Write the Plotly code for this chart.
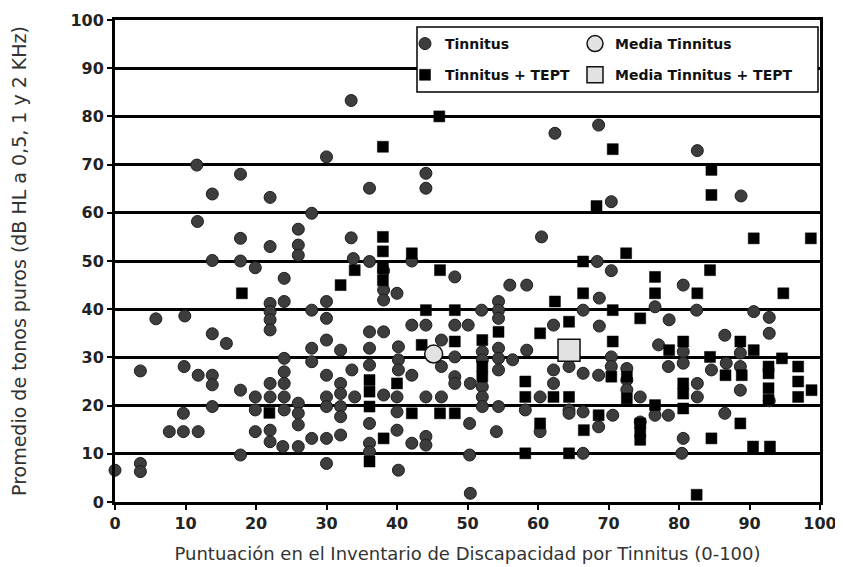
import plotly.graph_objects as go

# Tinnitus (circles)
tin_x = [0, 3.6, 3.6, 3.6, 5.8, 7.7, 9.9, 9.8, 9.7, 9.7,
         11.6, 11.7, 11.8, 11.8, 13.8, 13.8, 13.8, 13.8, 13.8, 13.8,
         15.8, 17.8, 17.8, 17.8, 17.8, 17.8, 19.9, 19.9, 19.9, 19.9,
         22, 22, 22, 22, 22, 22, 22, 22, 22, 22,
         24, 24, 24, 24, 24, 24, 24, 23.8,
         26, 26, 26, 26, 26, 26, 26,
         27.9, 27.9, 27.9, 27.9, 27.9,
         30, 30, 30, 30, 30, 30, 30, 30, 30,
         32, 32, 32, 32, 32, 32,
         33.5, 33.5, 33.8, 33.6, 34,
         36.1, 36.1, 36.1, 36.1, 36.1, 36.1, 36.1, 36.1,
         38.1, 38.1, 38.1, 38.1, 38.1,
         40, 40.2, 40.2, 40.2, 40, 40, 40, 40.2,
         42.1, 42.1, 42.1, 42.1,
         44.1, 44.1, 44.1, 44.1, 44.1, 44.1,
         46.3, 46.3, 46.3,
         48.2, 48.2, 48.2, 48.2, 48.2,
         50.1, 50.4, 50.3, 50.3, 50.4,
         52, 52.1, 52.1, 52.1, 52.1, 52.1,
         54.4, 54.4, 54.4, 54.4, 54.4, 54.4, 54.4, 54.1,
         56, 56.4, 58.4, 58.4, 58.2,
         60.5, 60.3, 60.3,
         62.4, 62.2, 62.2, 62.2,
         64.4, 64.4, 64.4,
         66.4, 66.4, 66.4, 66.4,
         68.6, 68.4, 68.7, 68.7, 68.6, 68.6,
         70.4, 70.4, 70.4, 70.4, 70.6,
         72.6, 72.6, 72.6, 74.5, 74.5,
         76.6, 77.1, 76.6, 78.6, 78.5, 78.5,
         80.6, 80.6, 80.6, 80.6, 80.4,
         82.6, 82.5, 82.6, 82.6, 84.6,
         86.5, 86.7, 86.5,
         88.8, 88.7, 88.7, 88.7,
         90.6, 92.8, 92.8, 92.8]
tin_y = [6.6, 8, 6.3, 27.2, 38, 14.6, 38.6, 28.1, 18.4, 14.6,
         69.9, 58.2, 26.3, 14.6, 63.9, 50.1, 34.9, 26.3, 24.3, 19.8,
         32.9, 68, 54.7, 50, 23.2, 9.75, 48.6, 21.8, 19.1, 14.6,
         63.2, 53, 41.2, 39.5, 37.8, 35.7, 24.6, 21.8, 14.9, 12.5,
         46.4, 41.6, 29.8, 27, 24.6, 21.8, 19.1, 11.5,
         56.6, 53.3, 51.2, 20.5, 18.4, 16, 11.5,
         59.9, 39.8, 31.9, 29.1, 13.2,
         71.6, 41.6, 38.1, 33.6, 26.3, 21.8, 19.8, 13.2, 8,
         31.5, 24.6, 22.5, 19.8, 17.7, 13.9,
         83.3, 54.8, 50.5, 27.4, 21.8,
         65.1, 49.9, 35.3, 31.9, 28.4, 16.3, 12.2, 10.4,
         48, 44, 41.9, 35.3, 22.2,
         43.3, 32.2, 29.5, 27.4, 21.8, 18.7, 14.9, 6.6,
         50, 36.7, 26.3, 12.2,
         68.2, 65.1, 36.7, 21.8, 13.6, 11.8,
         33.6, 28.1, 21.8,
         46.7, 36.7, 30.1, 26, 24.6,
         36.7, 24.6, 16.3, 9.75, 1.8,
         39.8, 31.2, 29.5, 23.9, 21.8, 19.8,
         41.6, 39.8, 38.1, 31.9, 29.8, 27.4, 19.8, 14.6,
         45, 29.5, 45, 31.5, 19.1,
         55, 21.8, 14.6,
         76.5, 36.7, 27.4, 24.6,
         28.1, 19.1, 18.4,
         39.8, 26.7, 18.7, 10.1,
         78.2, 49.9, 42.3, 36.5, 26.3, 15.6,
         62.3, 48, 30.1, 28.1, 18,
         27.7, 25.3, 23.3, 21.8, 16.6,
         40.5, 32.6, 18, 37.8, 28.1, 18,
         45, 31.2, 28.8, 13.2, 10.1,
         72.9, 39.8, 24.6, 21.8, 27.4,
         34.6, 28.8, 18.4,
         63.5, 30.9, 28.1, 23.2,
         39.5, 38.3, 35, 21]

# Tinnitus + TEPT (squares)
tept_x = [18, 21.9, 32, 34,
          36.1, 36.1, 36.1, 36.1,
          38, 38, 38, 38, 38, 38.1,
          40, 42.1, 42.1, 43.5, 44.1,
          46, 46.1, 46.1, 48.2, 48.2, 48.2,
          52.1, 52.1, 52.1, 54.4,
          58.2, 58.2, 58.2, 60.3, 60.3,
          62.4, 62.2, 64.4, 64.4, 64.4,
          66.4, 66.4, 66.5, 68.3, 68.6,
          70.6, 70.6, 70.6, 70.4,
          72.5, 72.6, 72.6,
          74.5, 74.5, 74.5, 74.5,
          76.6, 76.6, 76.6, 78.6,
          80.6, 80.6, 80.6, 80.6,
          82.6, 82.5,
          84.6, 84.6, 84.4, 84.4, 84.6,
          86.6, 88.7, 88.9, 88.7,
          90.6, 90.6, 90.5,
          92.7, 92.7, 92.7, 92.7, 92.9,
          94.8, 94.6, 96.9, 96.9, 96.9,
          98.7, 98.8]
tept_y = [43.3, 18.5, 45, 48.1,
          25.3, 22.9, 19.8, 8.4,
          73.7, 55, 52, 48.5, 46, 13.2,
          24.6, 51.6, 18.4, 32.6, 39.8,
          80, 48.1, 18.4, 39.8, 33.3, 18.4,
          33.6, 28.1, 26, 35.3,
          25, 21.8, 10.1, 35, 16.3,
          41.6, 21.8, 37.4, 21.8, 10.1,
          49.9, 43.3, 14.9, 61.4, 18,
          73.2, 39.8, 33.3, 26,
          51.6, 26, 21.5,
          38.1, 16.3, 14.6, 12.9,
          46.7, 43.3, 20.1, 31.5,
          33.3, 24.6, 22.5, 19.4,
          43.3, 1.5,
          68.9, 63.7, 48.1, 30.1, 13.2,
          26.3, 33.3, 26.3, 16.3,
          54.7, 31.5, 11.5,
          28.1, 26.7, 23.6, 21.2, 11.5,
          43.3, 29.8, 28.1, 25, 21.8,
          54.7, 23.2]

mean_tin_x, mean_tin_y = [45.2], [30.7]
mean_tept_x, mean_tept_y = [64.4], [31.5]

x_ticks = [0, 10, 20, 30, 40, 50, 60, 70, 80, 90, 100]
y_ticks = [0, 10, 20, 30, 40, 50, 60, 70, 80, 90, 100]

legend_font = dict(family="DejaVu Sans", size=14, color="#111111", weight="bold")

fig = go.Figure()
fig.add_trace(go.Scatter(x=tin_x, y=tin_y, mode="markers", name="Tinnitus",
                         legend="legend", legendgroup="a",
                         marker=dict(symbol="circle", size=12, color="#3d3d3d",
                                     line=dict(color="#1e1e1e", width=1)),
                         cliponaxis=False))
fig.add_trace(go.Scatter(x=tept_x, y=tept_y, mode="markers", name="Tinnitus + TEPT",
                         legend="legend", legendgroup="b",
                         marker=dict(symbol="square", size=11, color="#000000",
                                     line=dict(color="#000000", width=0.5)),
                         cliponaxis=False))
fig.add_trace(go.Scatter(x=mean_tin_x, y=mean_tin_y, mode="markers", name="Media Tinnitus",
                         legend="legend2", legendgroup="c",
                         marker=dict(symbol="circle", size=18, color="#e2e2e2",
                                     line=dict(color="#111111", width=1.5)),
                         cliponaxis=False))
fig.add_trace(go.Scatter(x=mean_tept_x, y=mean_tept_y, mode="markers", name="Media Tinnitus + TEPT",
                         legend="legend2", legendgroup="d",
                         marker=dict(symbol="square", size=22, color="#e2e2e2",
                                     line=dict(color="#111111", width=1.5)),
                         cliponaxis=False))

# plot area in page pixels: x 115..820, y 20..502 (page body has an 8px offset)
def px2x(p):
    return (p - 115) / 705.0

def py2y(p):
    return (502 - p) / 482.0

fig.update_layout(
    width=843, height=567,
    margin=dict(l=107, r=31, t=12, b=73, autoexpand=False),
    paper_bgcolor="white", plot_bgcolor="white",
    font=dict(family="DejaVu Sans", color="#222222"),
    legend=dict(orientation="v", x=px2x(405), y=py2y(28), xanchor="left", yanchor="top",
                bgcolor="rgba(0,0,0,0)", borderwidth=0, itemwidth=30,
                traceorder="grouped", tracegroupgap=10, itemsizing="trace", font=legend_font),
    legend2=dict(orientation="v", x=px2x(575), y=py2y(28), xanchor="left", yanchor="top",
                 bgcolor="rgba(0,0,0,0)", borderwidth=0, itemwidth=30,
                 traceorder="grouped", tracegroupgap=10, itemsizing="trace", font=legend_font),
    shapes=[dict(type="rect", xref="paper", yref="paper",
                 x0=px2x(417), x1=px2x(818), y0=py2y(92), y1=py2y(27),
                 line=dict(color="#000000", width=1.5), fillcolor="white", layer="above")],
    xaxis=dict(range=[0, 100], tickvals=x_ticks, ticktext=[str(v) for v in x_ticks],
               automargin=False,
               showgrid=False, zeroline=False, showline=True, linecolor="#000000",
               linewidth=3, mirror=True, ticks="outside", ticklen=5, tickwidth=2,
               tickcolor="#000000",
               tickfont=dict(family="DejaVu Sans", size=16, color="#222222", weight="bold"),
               title=dict(text="Puntuación en el Inventario de Discapacidad por Tinnitus (0-100)",
                          font=dict(family="DejaVu Sans", size=18, color="#333333"),
                          standoff=16)),
    yaxis=dict(range=[0, 100], tickvals=y_ticks, ticktext=[str(v) for v in y_ticks],
               automargin=False,
               showgrid=True, gridcolor="#000000", gridwidth=3, zeroline=False,
               showline=True, linecolor="#000000", linewidth=3, mirror=True,
               ticks="outside", ticklen=5, tickwidth=2, tickcolor="#000000",
               tickfont=dict(family="DejaVu Sans", size=16, color="#222222", weight="bold"),
               title=dict(text="Promedio de tonos puros (dB HL a 0,5, 1 y 2 KHz)",
                          font=dict(family="DejaVu Sans", size=19, color="#333333"),
                          standoff=41)),
)

fig.write_html("out.html")
